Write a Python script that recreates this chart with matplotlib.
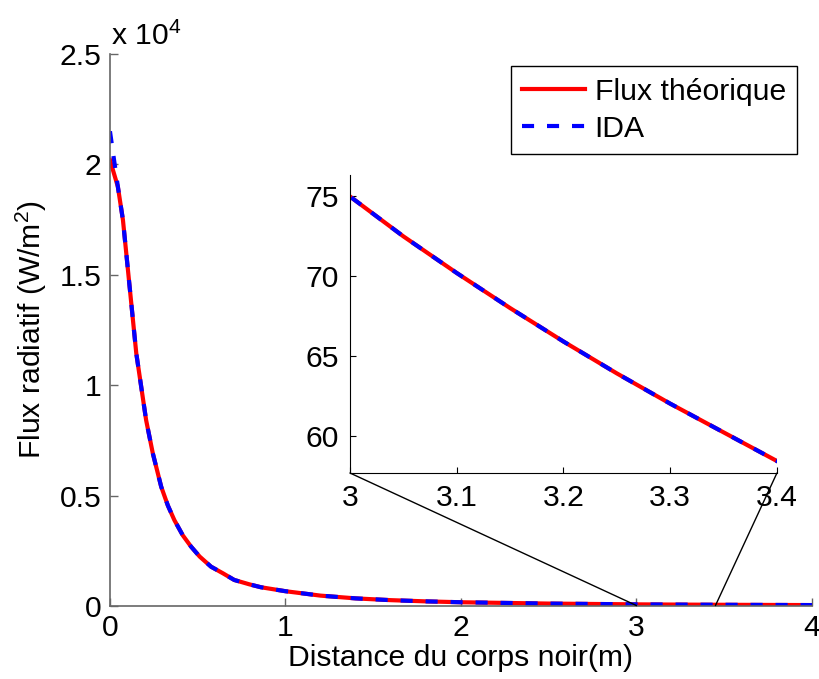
import numpy as np
import matplotlib.pyplot as plt
from matplotlib.patches import ConnectionPatch

plt.rcParams['font.family'] = ['Liberation Sans', 'DejaVu Sans']
plt.rcParams['mathtext.fontset'] = 'custom'
plt.rcParams['mathtext.rm'] = 'Liberation Sans'
plt.rcParams['mathtext.it'] = 'Liberation Sans'
plt.rcParams['font.size'] = 21.7

# Données (distance en m, flux en W/m^2)
distance = [0.0, 0.045, 0.074, 0.093, 0.112, 0.131, 0.150, 0.178, 0.206, 0.244,
            0.292, 0.330, 0.367, 0.415, 0.462, 0.511, 0.576, 0.644, 0.708, 0.795,
            0.860, 1.0, 1.2, 1.4, 1.6, 1.8,
            2.0, 2.5, 3.0, 3.05, 3.1, 3.15, 3.2, 3.25, 3.3, 3.35, 3.4, 3.5, 4.0]
flux_theo = [20200, 18990, 17480, 15970, 14460, 12950, 11440, 9930, 8420, 6920,
             5400, 4550, 3890, 3200, 2690, 2240, 1780, 1480, 1180, 980,
             850, 670, 470, 345, 265, 210,
             170, 110, 75.0, 72.5, 70.2, 68.0, 65.9, 63.9, 62.0, 60.2, 58.4, 55, 42]
flux_ida = [21500, 18990, 17480, 15970, 14460, 12950, 11440, 9930, 8420, 6920,
            5400, 4550, 3890, 3200, 2690, 2240, 1780, 1480, 1180, 980,
            850, 670, 470, 345, 265, 210,
            170, 110, 75.0, 72.5, 70.2, 68.0, 65.9, 63.9, 62.0, 60.2, 58.4, 55, 42]

xticks_main = [0, 1, 2, 3, 4]
yticks_main = [0, 5000, 10000, 15000, 20000, 25000]
yticklabels_main = ['0', '0.5', '1', '1.5', '2', '2.5']
xticks_zoom = [3, 3.1, 3.2, 3.3, 3.4]
yticks_zoom = [60, 65, 70, 75]

fig = plt.figure(figsize=(8.2, 6.79), dpi=100)
ax = fig.add_axes([0.1341, 0.1075, 0.8561, 0.813])

lw = 3.0
ax.plot(distance, flux_theo, color='#ff0000', lw=lw, label='Flux théorique',
        solid_joinstyle='round')
ax.plot(distance, flux_ida, color='#0000ff', lw=lw, ls=(0, (2.9, 3.1)), label='IDA',
        dash_joinstyle='round')

ax.set_xlim(0, 4)
ax.set_ylim(0, 25000)
ax.set_xticks(xticks_main)
ax.set_yticks(yticks_main)
ax.set_yticklabels(yticklabels_main)
for s in ['top', 'right']:
    ax.spines[s].set_visible(False)
for s in ['left', 'bottom']:
    ax.spines[s].set_color('#666666')
    ax.spines[s].set_linewidth(1.2)
ax.tick_params(direction='in', length=6, width=1, color='#666666', pad=6)
ax.text(0.002, 1.005, r'x 10$^{4}$', transform=ax.transAxes, ha='left', va='bottom')
ax.set_xlabel('Distance du corps noir(m)', labelpad=1)
ax.set_ylabel(r'Flux radiatif (W/m$^{2}$)', labelpad=8)

leg = ax.legend(loc='upper right', bbox_to_anchor=(0.979, 0.978), borderaxespad=0,
                fancybox=False, framealpha=1, edgecolor='black', handlelength=2.1,
                handletextpad=0.3, borderpad=0.38, labelspacing=0.3)
leg.get_frame().set_linewidth(1.0)

# Zoom entre 3 et 3.4 m
axz = fig.add_axes([0.4268, 0.3034, 0.5207, 0.4389])
axz.plot(distance, flux_theo, color='#ff0000', lw=lw)
axz.plot(distance, flux_ida, color='#0000ff', lw=lw, ls=(0, (2.9, 3.1)))
axz.set_xlim(3, 3.4)
axz.set_ylim(57.65, 76.35)
axz.set_xticks(xticks_zoom)
axz.set_xticklabels(['3', '3.1', '3.2', '3.3', '3.4'])
axz.set_yticks(yticks_zoom)
for s in ['top', 'right']:
    axz.spines[s].set_visible(False)
axz.tick_params(direction='in', length=4, width=0.8, pad=8)

for xa, xb in [(3.0, 3.0), (3.4, 3.45)]:
    con = ConnectionPatch(xyA=(xa, 57.65), coordsA=axz.transData,
                          xyB=(xb, 20), coordsB=ax.transData,
                          color='black', lw=1.0)
    fig.add_artist(con)

fig.savefig('out.png', dpi=100)
